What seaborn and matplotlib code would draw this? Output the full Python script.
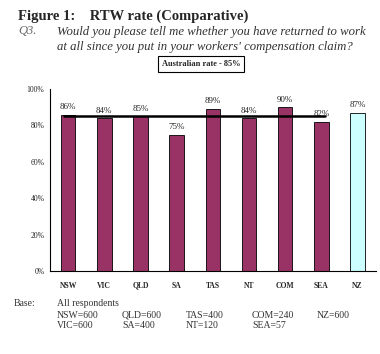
import pandas as pd
import numpy as np
import matplotlib
matplotlib.use("Agg")
import matplotlib.pyplot as plt
import seaborn as sns

# datos
regions = ['NSW', 'VIC', 'QLD', 'SA', 'TAS', 'NT', 'COM', 'SEA', 'NZ']
rtw_rate = [86, 84, 85, 75, 89, 84, 90, 82, 87]
group = ['AU', 'AU', 'AU', 'AU', 'AU', 'AU', 'AU', 'AU', 'NZ']
aus_rate = 85
base_cols = [['NSW=600', 'VIC=600'], ['QLD=600', 'SA=400'], ['TAS=400', 'NT=120'],
             ['COM=240', 'SEA=57'], ['NZ=600', '']]

df = pd.DataFrame({'region': regions, 'rate': rtw_rate, 'group': group})

sns.set_style('white')
plt.rcParams['font.family'] = ['Liberation Serif', 'DejaVu Serif']

fig = plt.figure(figsize=(3.8, 3.54), dpi=100)
ax = fig.add_axes([0.1316, 0.2345, 0.857, 0.514])

sns.barplot(data=df, x='region', y='rate', hue='group', dodge=False,
            palette={'AU': '#993366', 'NZ': '#CCFFFF'}, edgecolor='black',
            linewidth=0.6, width=0.4, saturation=1, legend=False, ax=ax)

# linea de la tasa australiana
ax.plot([-0.1, 7.1], [aus_rate, aus_rate], color='black', lw=1.8, zorder=5)

for i, v in enumerate(rtw_rate):
    ax.text(i, v + 2, f'{v}%', ha='center', va='bottom', fontsize=6.5)

ax.set_ylim(0, 100)
ax.set_xlim(-0.5, 8.5)
ax.set_yticks(range(0, 101, 20))
ax.set_yticklabels([f'{t}%' for t in range(0, 101, 20)], fontsize=5.5)
ax.set_xticks(range(9))
ax.set_xticklabels(regions, fontsize=5.5, fontweight='bold', va='baseline')
ax.set_xticks(np.arange(-0.5, 9, 1), minor=True)
ax.tick_params(axis='x', which='major', length=0, pad=12)
ax.tick_params(axis='x', which='minor', length=3, width=0.7, direction='out')
ax.tick_params(axis='y', length=3, width=0.7, direction='out', pad=1)
ax.set_xlabel('')
ax.set_ylabel('')
sns.despine(ax=ax)
for s in ['left', 'bottom']:
    ax.spines[s].set_color('black')
    ax.spines[s].set_linewidth(0.8)

# titulos
vb = 'center_baseline'
fig.text(18/380, 1 - 15/354, 'Figure 1:    RTW rate (Comparative)', fontsize=10.5,
         fontweight='bold', va=vb)
fig.text(18/380, 1 - 30/354, 'Q3.', fontsize=9, style='italic', color='#666666', va=vb)
fig.text(57/380, 1 - 30/354, 'Would you please tell me whether you have returned to work',
         fontsize=9.2, style='italic', color='#333333', va=vb)
fig.text(57/380, 1 - 45.5/354, "at all since you put in your workers' compensation claim?",
         fontsize=9.2, style='italic', color='#333333', va=vb)
fig.text(201/380, 1 - 64/354, f'Australian rate - {aus_rate}%', fontsize=6, fontweight='bold',
         ha='center', va='center',
         bbox=dict(boxstyle='square,pad=0.45', facecolor='white', edgecolor='black', lw=0.8))

# base
fig.text(14/380, 1 - 302/354, 'Base:', fontsize=7, va=vb, color='#333333')
fig.text(57/380, 1 - 302/354, 'All respondents', fontsize=7, va=vb, color='#333333')
xs = [57, 122, 186, 252, 317]
for x, col in zip(xs, base_cols):
    fig.text(x/380, 1 - 314/354, col[0], fontsize=7, va=vb, color='#333333')
    fig.text(x/380, 1 - 325/354, col[1], fontsize=7, va=vb, color='#333333')

fig.savefig('out.png', dpi=100)
